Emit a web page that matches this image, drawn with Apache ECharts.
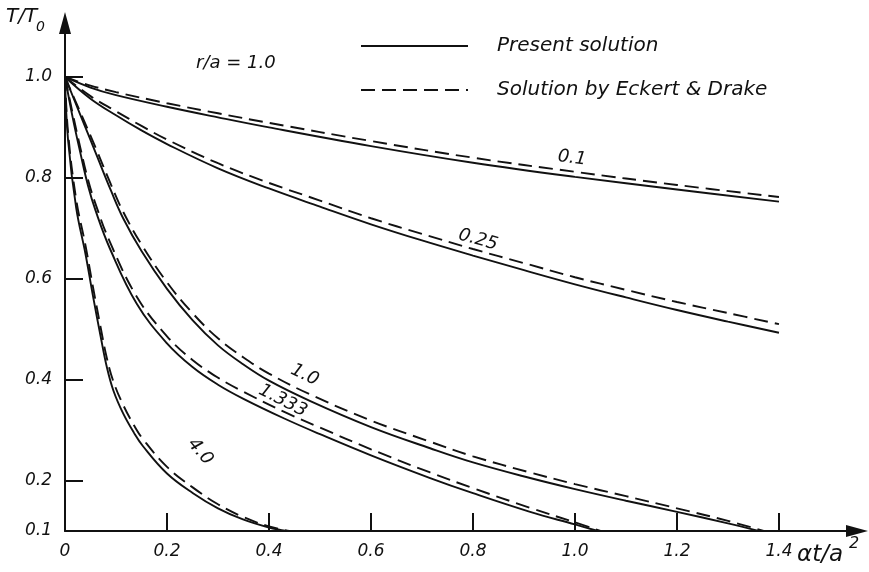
<!DOCTYPE html>
<html>
<head>
<meta charset="utf-8">
<script src="https://cdn.jsdelivr.net/npm/echarts@6/dist/echarts.min.js"></script>
<style>
  html, body { margin: 0; padding: 0; background: #fff; }
  #main { width: 869px; height: 572px; }
</style>
</head>
<body>
<div id="main"></div>
<script>
// r/a = 1.0, T/T0 against alpha*t/a^2, one pair of curves per parameter value
var curveNames = ['0.1', '0.25', '1.0', '1.333', '4.0'];

// present solution (solid)
var present01 = [[0,1.0],[0.05,0.979],[0.1,0.964],[0.2,0.941],[0.3,0.92],[0.4,0.90],[0.6,0.863],[0.8,0.83],[1.0,0.802],[1.2,0.777],[1.4,0.753]];
var present025 = [[0,1.0],[0.05,0.957],[0.1,0.924],[0.15,0.894],[0.2,0.867],[0.3,0.819],[0.4,0.779],[0.5,0.743],[0.6,0.708],[0.7,0.676],[0.8,0.646],[0.9,0.617],[1.0,0.589],[1.1,0.563],[1.2,0.538],[1.3,0.515],[1.4,0.493]];
var present10 = [[0,1.0],[0.03,0.925],[0.06,0.85],[0.09,0.775],[0.114,0.72],[0.15,0.655],[0.2,0.58],[0.25,0.518],[0.3,0.468],[0.35,0.43],[0.4,0.398],[0.48,0.358],[0.6,0.306],[0.716,0.264],[0.8,0.236],[0.912,0.205],[1.0,0.183],[1.1,0.16],[1.2,0.138],[1.3,0.115],[1.36,0.1]];
var present1333 = [[0,1.0],[0.015,0.92],[0.03,0.85],[0.045,0.785],[0.06,0.735],[0.088,0.66],[0.141,0.55],[0.2,0.472],[0.25,0.425],[0.3,0.39],[0.35,0.362],[0.43,0.323],[0.5,0.292],[0.6,0.25],[0.716,0.205],[0.8,0.175],[0.912,0.138],[1.0,0.113],[1.045,0.1]];
var present40 = [[0,1.0],[0.006,0.875],[0.022,0.74],[0.04,0.65],[0.055,0.565],[0.07,0.485],[0.082,0.425],[0.095,0.378],[0.114,0.333],[0.135,0.295],[0.153,0.268],[0.2,0.214],[0.251,0.175],[0.3,0.145],[0.349,0.123],[0.4,0.107],[0.435,0.1]];

// Eckert & Drake (dashed)
var eckert01 = [[0,1.0],[0.05,0.983],[0.1,0.97],[0.2,0.948],[0.3,0.928],[0.4,0.909],[0.6,0.873],[0.8,0.84],[1.0,0.812],[1.2,0.786],[1.4,0.762]];
var eckert025 = [[0,1.0],[0.05,0.962],[0.1,0.932],[0.15,0.903],[0.2,0.876],[0.3,0.829],[0.4,0.79],[0.5,0.755],[0.6,0.72],[0.7,0.689],[0.8,0.659],[0.9,0.631],[1.0,0.603],[1.1,0.578],[1.2,0.554],[1.3,0.532],[1.4,0.51]];
var eckert10 = [[0,1.0],[0.03,0.93],[0.06,0.86],[0.09,0.787],[0.114,0.733],[0.15,0.668],[0.2,0.593],[0.25,0.532],[0.3,0.482],[0.35,0.444],[0.4,0.412],[0.48,0.371],[0.6,0.319],[0.716,0.277],[0.8,0.248],[0.912,0.216],[1.0,0.193],[1.1,0.169],[1.2,0.145],[1.3,0.12],[1.37,0.1]];
var eckert1333 = [[0,1.0],[0.015,0.928],[0.03,0.86],[0.045,0.797],[0.06,0.748],[0.088,0.673],[0.141,0.564],[0.2,0.486],[0.25,0.439],[0.3,0.404],[0.35,0.376],[0.43,0.336],[0.5,0.305],[0.6,0.262],[0.716,0.216],[0.8,0.185],[0.912,0.146],[1.0,0.117],[1.05,0.1]];
var eckert40 = [[0,1.0],[0.006,0.89],[0.022,0.757],[0.04,0.667],[0.055,0.583],[0.07,0.503],[0.082,0.443],[0.095,0.396],[0.114,0.35],[0.135,0.31],[0.153,0.282],[0.2,0.227],[0.251,0.186],[0.3,0.153],[0.349,0.128],[0.4,0.109],[0.44,0.1]];

var presentList = [present01, present025, present10, present1333, present40];
var eckertList = [eckert01, eckert025, eckert10, eckert1333, eckert40];

// where the parameter labels sit on the curves (data coords) and their tilt
var labelAt = [[0.994, 0.839], [0.81, 0.677], [0.47, 0.409], [0.427, 0.358], [0.265, 0.257]];
var labelTilt = [-7, -16, -26, -27, -50];

var xTicks = [0, 0.2, 0.4, 0.6, 0.8, 1.0, 1.2, 1.4];
var yTicks = [0.1, 0.2, 0.4, 0.6, 0.8, 1.0];

var ink = '#111';
var font = 'DejaVu Sans';

var chart = echarts.init(document.getElementById('main'), null, { renderer: 'canvas' });

var series = [];
presentList.forEach(function (d) {
  series.push({
    name: 'Present solution',
    type: 'line',
    data: d,
    symbol: 'none',
    smooth: 0.4,
    itemStyle: { color: ink },
    lineStyle: { color: ink, width: 1.9 }
  });
});
eckertList.forEach(function (d, i) {
  series.push({
    name: 'Solution by Eckert & Drake',
    type: 'line',
    data: d,
    symbol: 'none',
    smooth: 0.4,
    itemStyle: { color: ink },
    lineStyle: { color: ink, width: 1.9, type: [14, 7] },
    markPoint: {
      symbol: 'circle',
      symbolSize: 0,
      silent: true,
      label: {
        show: true,
        position: 'inside',
        formatter: curveNames[i],
        rotate: labelTilt[i],
        color: ink,
        fontSize: 18,
        fontStyle: 'italic',
        fontFamily: font
      },
      data: [{ coord: labelAt[i] }]
    }
  });
});

var option = {
  animation: false,
  backgroundColor: '#fff',
  textStyle: { fontFamily: font, fontStyle: 'italic', color: ink },
  grid: { left: 65, right: 12, top: 23, bottom: 41 },
  legend: {
    orient: 'vertical',
    left: 355,
    top: 29,
    itemWidth: 107,
    itemHeight: 14,
    itemGap: 20,
    itemStyle: { opacity: 0 },
    data: ['Present solution', 'Solution by Eckert & Drake'],
    textStyle: { fontSize: 20, fontStyle: 'italic', fontFamily: font, color: ink, lineHeight: 24, padding: [0, 0, 0, 24] }
  },
  xAxis: {
    type: 'value',
    min: 0,
    max: 1.553,
    splitLine: { show: false },
    axisLine: { lineStyle: { color: ink, width: 2 }, symbol: ['none', 'triangle'], symbolSize: [12, 22] },
    axisTick: { inside: true, length: 18, lineStyle: { color: ink, width: 2 }, customValues: xTicks.slice(1) },
    axisLabel: {
      customValues: xTicks,
      margin: 12,
      fontSize: 17,
      color: ink,
      fontStyle: 'italic',
      formatter: function (v) { return v === 0 ? '0' : v.toFixed(1); }
    }
  },
  yAxis: {
    type: 'value',
    min: 0.1,
    max: 1.107,
    splitLine: { show: false },
    axisLine: { lineStyle: { color: ink, width: 2 }, symbol: ['none', 'triangle'], symbolSize: [12, 22] },
    axisTick: { inside: true, length: 18, lineStyle: { color: ink, width: 2 }, customValues: yTicks.slice(1) },
    axisLabel: {
      customValues: yTicks,
      margin: 13,
      fontSize: 17,
      color: ink,
      fontStyle: 'italic',
      formatter: function (v) { return v.toFixed(1); }
    }
  },
  graphic: [
    { type: 'text', left: 6, top: 7, style: { text: 'T/T', fontSize: 20, fontStyle: 'italic', fontFamily: font, fill: ink } },
    { type: 'text', left: 36, top: 20, style: { text: '0', fontSize: 14, fontStyle: 'italic', fontFamily: font, fill: ink } },
    { type: 'text', left: 196, top: 54, style: { text: 'r/a = 1.0', fontSize: 18, fontStyle: 'italic', fontFamily: font, fill: ink } },
    { type: 'text', left: 797, top: 544, style: { text: 'αt/a', fontSize: 23, fontStyle: 'italic', fontFamily: font, fill: ink } },
    { type: 'text', left: 849, top: 536, style: { text: '2', fontSize: 16, fontStyle: 'italic', fontFamily: font, fill: ink } }
  ],
  series: series
};

chart.setOption(option);
</script>
</body>
</html>
